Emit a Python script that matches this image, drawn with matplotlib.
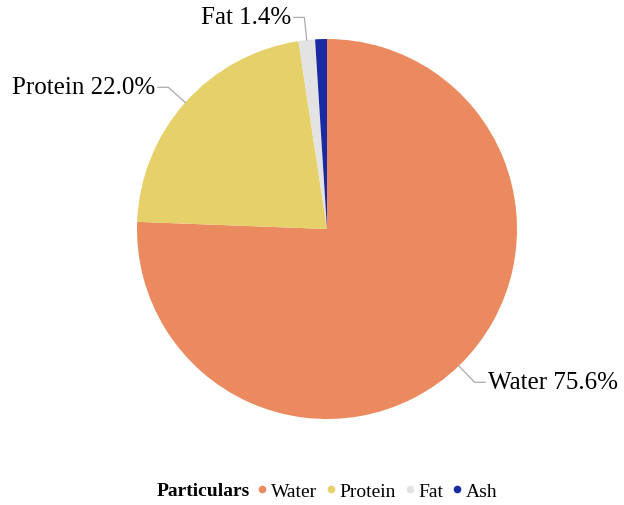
import numpy as np
import matplotlib
matplotlib.use("Agg")
import matplotlib.pyplot as plt
from matplotlib.lines import Line2D

particulars = ["Water", "Protein", "Fat", "Ash"]
shares = [75.6, 22.0, 1.4, 1.0]
colors = ["#EB8A5F", "#E6D06A", "#E3E3E3", "#1A2AA0"]
show_label = [True, True, True, False]

plt.rcParams["font.family"] = ["Liberation Serif", "DejaVu Serif"]

fig = plt.figure(figsize=(6.24, 5.06), dpi=100)
ax = fig.add_axes([(327 - 190) / 624, (506 - 420) / 506, 380 / 624, 380 / 506])
wedges, _ = ax.pie(shares, colors=colors, startangle=90, counterclock=False,
                   radius=1.0, wedgeprops=dict(linewidth=0))
ax.set_xlim(-1, 1)
ax.set_ylim(-1, 1)
ax.set_aspect("equal")
ax.axis("off")

# leader lines: short radial piece, then a horizontal tail
for w, name, val, show in zip(wedges, particulars, shares, show_label):
    if not show:
        continue
    ang = np.deg2rad((w.theta1 + w.theta2) / 2)
    x0, y0 = np.cos(ang), np.sin(ang)
    x1, y1 = 1.12 * x0, 1.12 * y0
    side = 1 if x0 > 0 else -1
    x2 = x1 + side * 0.055
    ax.plot([x0, x1, x2], [y0, y1, y1], color="#AAAAAA", lw=0.9,
            clip_on=False)
    ax.text(x2 + side * 0.015, y1, f"{name} {val:.1f}%", fontsize=18,
            ha="left" if side > 0 else "right", va="center")

handles = [Line2D([], [], marker="o", ls="", markersize=5.5, color=c,
                  markeredgewidth=0) for c in colors]
fig.text(157 / 624, 1 - 492 / 506, "Particulars", fontsize=14,
         fontweight="bold", va="center", ha="left")
fig.legend(handles, particulars, loc="center left", ncol=4, frameon=False,
           bbox_to_anchor=(254.5 / 624, 1 - 492 / 506), fontsize=14,
           handletextpad=0.05, columnspacing=0.3, handlelength=0.8,
           borderaxespad=0, borderpad=0)

fig.savefig("out.png", dpi=100)
